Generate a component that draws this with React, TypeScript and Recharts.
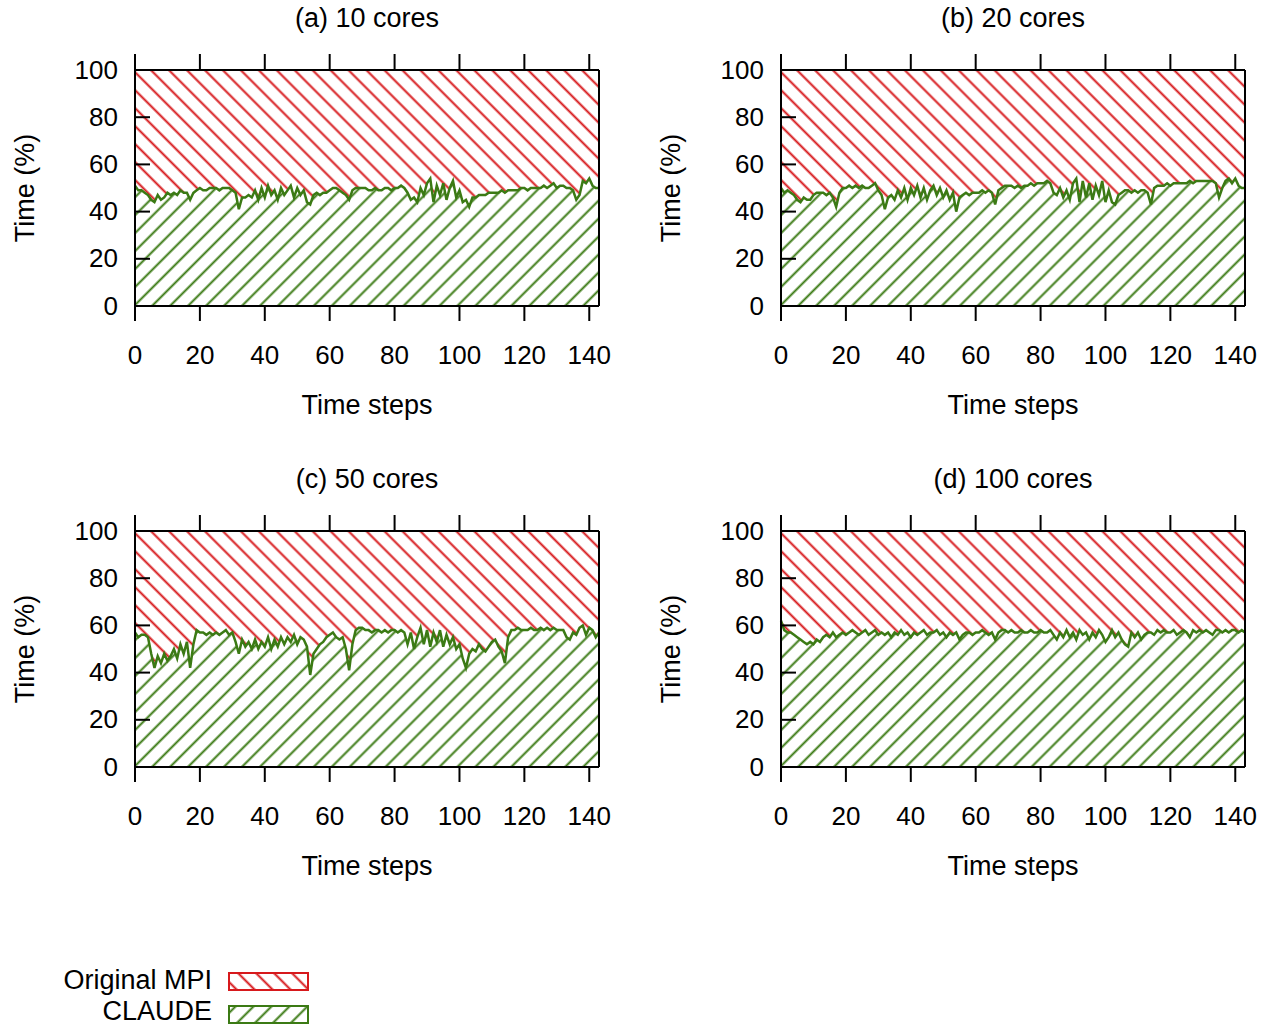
import React from "react"
import { ComposedChart, Area, Line, XAxis, YAxis } from "recharts"

// CLAUDE share of time (%) per time step, one list per core count; Original MPI = the rest up to 100
const cores10 = [
  51, 49, 49, 48, 47, 45, 44, 47, 45, 46, 48, 47,
  48, 47, 49, 48, 48, 45, 48, 49, 50, 49, 49, 50,
  50, 50, 49, 50, 50, 50, 49, 48, 41, 46, 46, 47,
  46, 49, 45, 50, 46, 51, 47, 49, 45, 50, 47, 49,
  51, 46, 50, 47, 49, 44, 43, 47, 48, 47, 48, 48,
  49, 50, 50, 49, 48, 47, 45, 49, 50, 50, 50, 50,
  49, 49, 50, 49, 49, 50, 50, 49, 50, 50, 51, 50,
  48, 45, 46, 44, 50, 47, 52, 54, 44, 51, 47, 52,
  45, 50, 53, 46, 49, 44, 45, 42, 46, 46, 47, 47,
  47, 48, 48, 48, 48, 49, 48, 49, 49, 49, 49, 50,
  50, 49, 50, 50, 50, 50, 51, 50, 51, 52, 50, 51,
  51, 50, 50, 49, 45, 47, 53, 52, 54, 51, 50, 50,
]

const cores20 = [
  50, 48, 49, 48, 47, 45, 44, 46, 45, 45, 47, 48,
  48, 48, 47, 48, 46, 42, 48, 50, 50, 51, 50, 51,
  50, 51, 50, 50, 51, 52, 49, 47, 41, 46, 47, 45,
  49, 46, 50, 45, 50, 47, 51, 46, 50, 45, 49, 51,
  47, 50, 46, 49, 45, 48, 40, 46, 47, 48, 47, 48,
  48, 48, 49, 48, 49, 48, 43, 49, 50, 51, 51, 51,
  50, 51, 50, 51, 51, 52, 51, 52, 52, 52, 53, 52,
  48, 47, 50, 46, 49, 45, 52, 54, 44, 53, 46, 52,
  45, 51, 47, 53, 44, 49, 44, 43, 47, 48, 49, 49,
  48, 49, 48, 49, 49, 48, 43, 50, 51, 51, 51, 52,
  51, 52, 52, 52, 52, 52, 53, 52, 53, 53, 53, 53,
  53, 53, 52, 46, 50, 53, 54, 52, 54, 51, 50, 50,
]

const cores50 = [
  57, 55, 56, 56, 55, 48, 42, 47, 44, 48, 45, 47,
  50, 46, 52, 48, 53, 42, 52, 58, 57, 57, 56, 57,
  56, 57, 56, 57, 58, 56, 57, 53, 48, 54, 51, 53,
  50, 54, 50, 53, 51, 55, 50, 54, 51, 55, 52, 55,
  53, 56, 52, 55, 54, 51, 39, 48, 50, 52, 53, 55,
  56, 57, 55, 54, 55, 50, 41, 52, 58, 59, 59, 58,
  58, 57, 58, 58, 57, 58, 57, 58, 58, 57, 58, 57,
  52, 57, 50, 55, 59, 52, 58, 51, 57, 53, 58, 51,
  56, 52, 55, 50, 52, 46, 42, 48, 50, 49, 52, 50,
  49, 51, 53, 54, 51, 49, 44, 55, 58, 58, 59, 58,
  58, 58, 59, 58, 58, 59, 58, 59, 58, 59, 58, 58,
  58, 55, 54, 57, 56, 59, 60, 56, 59, 58, 55, 57,
]

const cores100 = [
  62, 58, 57, 57, 56, 55, 54, 53, 52, 53, 52, 54,
  53, 55, 56, 55, 57, 55, 56, 57, 56, 57, 58, 57,
  56, 57, 58, 56, 57, 58, 56, 57, 56, 57, 55, 57,
  56, 58, 56, 57, 55, 57, 56, 57, 58, 56, 57, 57,
  58, 56, 57, 55, 57, 56, 57, 54, 56, 57, 57, 56,
  57, 57, 58, 57, 56, 57, 54, 57, 58, 58, 57, 58,
  57, 57, 58, 57, 57, 58, 57, 57, 58, 57, 57, 58,
  56, 54, 57, 55, 58, 55, 57, 54, 58, 56, 57, 54,
  57, 55, 58, 56, 53, 55, 58, 55, 57, 54, 52, 51,
  57, 55, 57, 54, 56, 57, 57, 56, 58, 57, 58, 57,
  57, 58, 56, 57, 58, 57, 55, 58, 57, 58, 57, 58,
  57, 56, 58, 58, 57, 58, 57, 58, 58, 57, 58, 57,
]

const xTicks = [0, 20, 40, 60, 80, 100, 120, 140]
const yTicks = [0, 20, 40, 60, 80, 100]
const panelTitles = ["(a) 10 cores", "(b) 20 cores", "(c) 50 cores", "(d) 100 cores"]
const seriesNames = ["Original MPI", "CLAUDE"]

const RED = "#d7191c"
const GREEN = "#3b7a14"
const FONT = "'Liberation Sans', Arial, Helvetica, sans-serif"

function toRows(values: number[]) {
  return values.map((v, i) => ({ step: i, claude: v, mpi: 100 - v }))
}

const LeftTick = (props: any) => {
  const { x, y, payload } = props
  return (
    <g>
      <line x1={x} x2={x + 15} y1={y} y2={y} stroke="#000" strokeWidth={2} />
      <text x={x - 17} y={y} dy="0.33em" textAnchor="end" fontSize={26} fill="#000" fontFamily={FONT}>
        {payload.value}
      </text>
    </g>
  )
}

const RightTick = (props: any) => {
  const { x, y } = props
  return <line x1={x} x2={x - 15} y1={y} y2={y} stroke="#000" strokeWidth={2} />
}

// top axis: outward marks only, no labels
const TopTick = (props: any) => {
  const { x, y } = props
  return <line x1={x} x2={x} y1={y} y2={y - 16} stroke="#000" strokeWidth={2} />
}

function Panel({ title, values, left, top }: { title: string; values: number[]; left: number; top: number }) {
  const data = toRows(values)
  return (
    <div style={{ position: "absolute", left, top, width: 634, height: 440 }}>
      <div style={{ position: "absolute", left: 135, top: 0, width: 464, textAlign: "center", fontSize: 27, lineHeight: "36px" }}>
        {title}
      </div>
      <ComposedChart width={634} height={440} data={data} margin={{ top: 69, right: 34, bottom: 74, left: 75 }}>
        <Area xAxisId="b" yAxisId="l" dataKey="claude" stackId="s" type="linear" fill="url(#hatchGreen)" fillOpacity={1} stroke="none" isAnimationActive={false} />
        <Area xAxisId="b" yAxisId="l" dataKey="mpi" stackId="s" type="linear" fill="url(#hatchRed)" fillOpacity={1} stroke="none" isAnimationActive={false} />
        <Line xAxisId="b" yAxisId="l" dataKey="claude" type="linear" stroke={GREEN} strokeWidth={2.5} dot={false} activeDot={false} isAnimationActive={false} />
        <XAxis
          xAxisId="b"
          dataKey="step"
          type="number"
          domain={[0, 143]}
          ticks={xTicks}
          interval={0}
          height={60}
          tickSize={15}
          tickMargin={25}
          axisLine={{ stroke: "#000", strokeWidth: 2 }}
          tickLine={{ stroke: "#000", strokeWidth: 2 }}
          tick={{ fill: "#000", fontSize: 26, fontFamily: FONT }}
        />
        <XAxis
          xAxisId="t"
          orientation="top"
          dataKey="step"
          type="number"
          domain={[0, 143]}
          ticks={xTicks}
          interval={0}
          height={1}
          tickSize={0}
          tickMargin={0}
          axisLine={{ stroke: "#000", strokeWidth: 2 }}
          tickLine={false}
          tick={<TopTick />}
        />
        <YAxis
          yAxisId="l"
          type="number"
          domain={[0, 100]}
          ticks={yTicks}
          interval={0}
          width={60}
          tickSize={0}
          tickMargin={0}
          axisLine={{ stroke: "#000", strokeWidth: 2 }}
          tickLine={false}
          tick={<LeftTick />}
        />
        <YAxis
          yAxisId="r"
          orientation="right"
          type="number"
          domain={[0, 100]}
          ticks={yTicks}
          interval={0}
          width={1}
          tickSize={0}
          tickMargin={0}
          axisLine={{ stroke: "#000", strokeWidth: 2 }}
          tickLine={false}
          tick={<RightTick />}
        />
      </ComposedChart>
      <div style={{ position: "absolute", left: 135, top: 387, width: 464, textAlign: "center", fontSize: 27, lineHeight: "36px" }}>
        Time steps
      </div>
      <div
        style={{
          position: "absolute",
          left: -75,
          top: 170,
          width: 200,
          height: 36,
          textAlign: "center",
          fontSize: 27,
          lineHeight: "36px",
          transform: "rotate(-90deg)",
        }}
      >
        Time (%)
      </div>
    </div>
  )
}

function Swatch({ fill, color }: { fill: string; color: string }) {
  return (
    <svg width={81} height={19} style={{ display: "block" }}>
      <rect x={1} y={1} width={79} height={17} fill={fill} stroke={color} strokeWidth={2} />
    </svg>
  )
}

export default function App() {
  return (
    <div
      style={{
        position: "absolute",
        left: 0,
        top: 0,
        width: 1268,
        height: 1026,
        background: "#fff",
        fontFamily: FONT,
        color: "#000",
        overflow: "hidden",
      }}
    >
      <svg width={0} height={0} style={{ position: "absolute" }}>
        <defs>
          <pattern id="hatchRed" width={12.7} height={12.7} patternUnits="userSpaceOnUse" patternTransform="rotate(-45)">
            <line x1={6.35} y1={0} x2={6.35} y2={12.7} stroke={RED} strokeWidth={2} />
          </pattern>
          <pattern id="hatchGreen" width={12.7} height={12.7} patternUnits="userSpaceOnUse" patternTransform="rotate(45)">
            <line x1={6.35} y1={0} x2={6.35} y2={12.7} stroke={GREEN} strokeWidth={2} />
          </pattern>
        </defs>
      </svg>

      <Panel title={panelTitles[0]} values={cores10} left={0} top={0} />
      <Panel title={panelTitles[1]} values={cores20} left={646} top={0} />
      <Panel title={panelTitles[2]} values={cores50} left={0} top={461} />
      <Panel title={panelTitles[3]} values={cores100} left={646} top={461} />

      <div style={{ position: "absolute", left: 0, top: 968, width: 212, textAlign: "right", fontSize: 27, lineHeight: "24px" }}>
        {seriesNames[0]}
      </div>
      <div style={{ position: "absolute", left: 228, top: 972 }}>
        <Swatch fill="url(#hatchRed)" color={RED} />
      </div>
      <div style={{ position: "absolute", left: 0, top: 999, width: 212, textAlign: "right", fontSize: 27, lineHeight: "24px" }}>
        {seriesNames[1]}
      </div>
      <div style={{ position: "absolute", left: 228, top: 1005 }}>
        <Swatch fill="url(#hatchGreen)" color={GREEN} />
      </div>
    </div>
  )
}
